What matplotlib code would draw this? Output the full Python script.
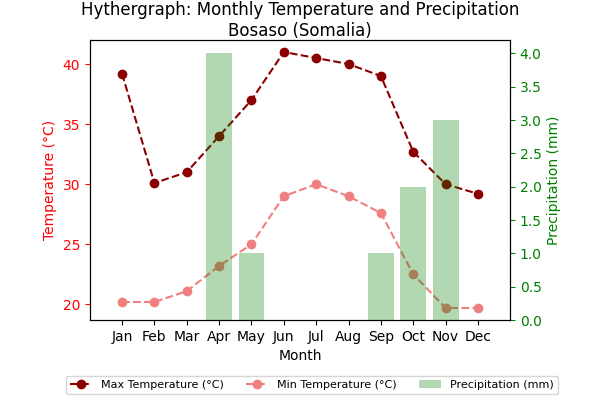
import matplotlib
matplotlib.use("Agg")
import matplotlib.pyplot as plt

months = ["Jan","Feb","Mar","Apr","May","Jun","Jul","Aug","Sep","Oct","Nov","Dec"]
tmax = [39.2, 30.1, 31.0, 34.0, 37.0, 41.0, 40.5, 40.0, 39.0, 32.7, 30.0, 29.2]
tmin = [20.2, 20.2, 21.1, 23.2, 25.0, 29.0, 30.0, 29.0, 27.6, 22.5, 19.7, 19.7]
precip = [0, 0, 0, 4, 1, 0, 0, 0, 1, 2, 3, 0]

fig, ax = plt.subplots(figsize=(6, 4), dpi=100)
l1, = ax.plot(months, tmax, "o--", color="darkred", label="Max Temperature (°C)")
l2, = ax.plot(months, tmin, "o--", color="lightcoral", label="Min Temperature (°C)")
ax.set_ylim(18.7, 42)
ax.set_xlabel("Month")
ax.set_ylabel("Temperature (°C)", color="red")
ax.tick_params(axis="y", colors="red")
ax2 = ax.twinx()
b = ax2.bar(months, precip, color="green", alpha=0.3, label="Precipitation (mm)")
ax2.set_ylim(0, 4.2)
ax2.set_ylabel("Precipitation (mm)", color="green")
ax2.tick_params(axis="y", colors="green")
ax.set_title("Hythergraph: Monthly Temperature and Precipitation\nBosaso (Somalia)", pad=3)
fig.legend([l1, l2, b], [l1.get_label(), l2.get_label(), b.get_label()],
           loc="lower center", ncol=3, fontsize=8, bbox_to_anchor=(0.52, 0.0))
fig.subplots_adjust(left=0.15, right=0.85, top=0.9, bottom=0.2)
fig.savefig("out.png")
